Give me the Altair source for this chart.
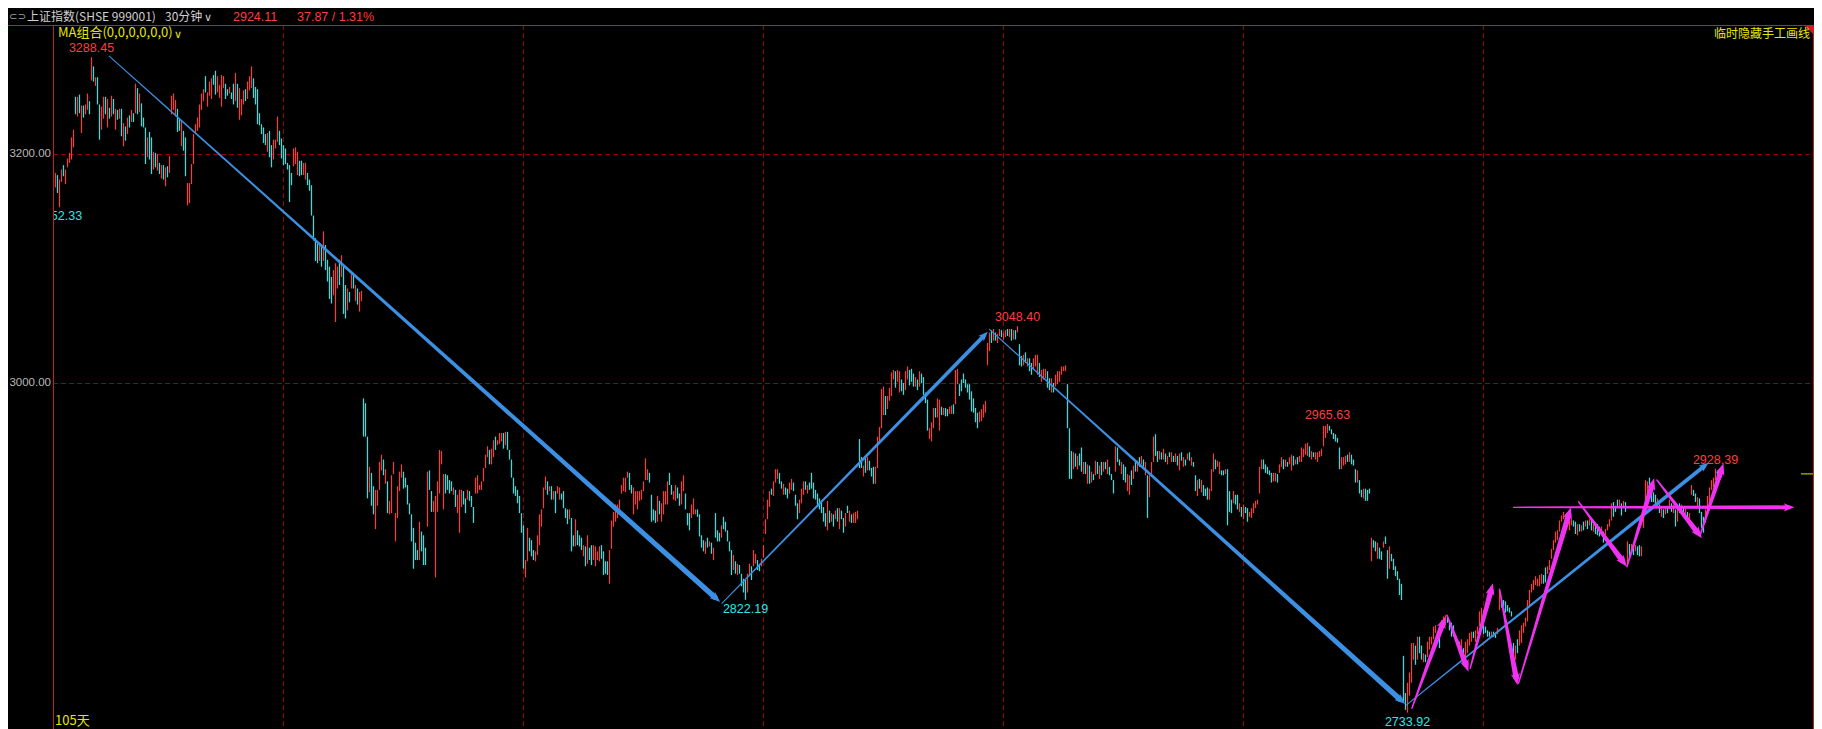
import math
import altair as alt
import pandas as pd

# ---------------- candle values (open, close) ----------------
chunk_start = [0, 154, 402, 466, 506, 658, 674]

bars_a = [
(3170,3183),(3181,3165),(3152.33,3177),(3175,3186),(3190,3180),(3173,3186),(3188,3196),(3192,3201),(3195,3215),(3206,3222),
(3252,3236),(3234,3252),(3254,3237),(3219,3244),(3244,3233),(3236,3245),(3240,3255),(3248,3236),(3267,3288.45),(3280,3266),
(3262,3270),(3270,3245),(3245,3213),(3222,3243),(3232,3252),(3252,3236),(3224,3250),(3242,3232),(3234,3253),(3250,3236),
(3222,3241),(3240,3231),(3232,3241),(3241,3216),(3207,3228),(3225,3212),(3218,3233),(3235,3224),(3229,3240),(3237,3229),
(3237,3264),(3260,3236),(3238,3255),(3246,3225),(3233,3224),(3224,3191),(3197,3215),(3220,3195),(3215,3182),(3186,3202),
(3201,3188),(3185,3200),(3192,3182),(3178,3190),(3190,3177),(3171,3188),(3189,3179),(3183,3198),(3236,3253),(3240,3255),
(3234,3249),(3241,3220),(3232,3221),(3207,3231),(3221,3203),(3215,3180),(3154,3174),(3156,3174),(3173,3191),(3191,3218),
(3218,3227),(3221,3233),(3224,3245),(3240,3255),(3248,3259),(3271,3256),(3243,3256),(3253,3266),(3250,3269),(3272,3263),
(3276,3254),(3256,3271),(3251,3263),(3243,3272),(3260,3271),(3264,3250),(3259,3253),(3255,3261),(3256,3250),(3264,3245),
(3248,3274),(3264,3242),(3231,3260),(3235,3250),(3245,3258),(3259,3248),(3250,3266),(3258,3271),(3260,3280),(3269,3251),
(3261,3245),(3259,3227),(3237,3226),(3227,3218),(3224,3210),(3218,3208),(3202,3219),(3221,3197),(3208,3188),(3195,3213),
(3205,3213),(3211,3234),(3221,3208),(3214,3196),(3208,3190),(3205,3191),(3192,3186),(3190,3157),(3183,3172),(3189,3205),
(3191,3206),(3181,3202),(3194,3180),(3194,3181),(3181,3192),(3177,3192),(3183,3172),(3177,3167),(3172,3145),(3145,3123),
(3125,3105),(3120,3103),(3105,3121),(3119,3100),(3105,3131),(3119,3097),(3106,3087),(3100,3072),(3091,3068),(3075,3097),
(3052,3103),(3081,3100),(3106,3084),(3091,3110),(3100,3059),(3084,3055),(3062,3081),(3078,3069),(3081,3096),(3093,3081),
(3070,3084),(3081,3067),(3061,3078),(3070,3079),
]

bars_b = [
(2987,2955),(2983,2955),(2955,2904),(2909,2930),(2925,2898),(2914,2891),(2879,2911),(2898,2911),(2911,2934),(2927,2940),
(2936,2923),(2916,2928),(2918,2892),(2891,2902),(2892,2923),(2924,2934),(2869,2892),(2888,2914),(2910,2926),(2921,2932),
(2926,2912),(2921,2913),(2915,2899),(2900,2891),(2891,2869),(2880,2847),(2868,2854),(2862,2854),(2854,2885),(2877,2861),
(2874,2850),(2864,2850),(2881,2926),(2927,2911),(2910,2893),(2893,2902),(2840,2906),(2893,2918),(2908,2944),(2932,2943),
(2895,2924),(2924,2908),(2923,2911),(2919,2908),(2918,2910),(2907,2913),(2911,2897),(2892,2907),(2876,2911),(2897,2911),
(2910,2899),(2904,2892),(2903,2911),(2910,2902),(2906,2897),(2897,2884),(2908,2921),(2908,2923),(2911,2915),(2911,2918),
(2918,2929),(2929,2940),(2938,2947),(2944,2932),(2932,2945),(2938,2952),(2955,2944),(2948,2952),(2949,2958),(2951,2958),
(2958,2945),(2948,2959),(2959,2944),(2944,2936),(2936,2921),(2921,2908),(2914,2906),(2911,2900),(2906,2892),(2892,2876),
(2882,2847),(2840,2854),(2853,2880),(2872,2861),(2870,2857),(2862,2854),(2853,2861),(2858,2874),(2866,2891),(2881,2895),
(2896,2913),(2911,2922),(2918,2907),(2910,2914),(2914,2903),(2903,2910),(2910,2892),(2908,2914),(2903,2913),(2908,2903),
(2910,2896),(2896,2888),(2895,2883),(2887,2895),(2888,2861),(2874,2865),(2865,2887),(2878,2866),(2874,2865),(2872,2862),
(2857,2866),(2865,2849),(2851,2874),(2864,2854),(2866,2850),(2854,2866),(2849,2865),(2854,2861),(2853,2865),(2866,2855),
(2861,2842),(2853,2843),(2853,2842),(2835,2862),(2863,2886),(2881,2893),(2885,2899),(2888,2899),(2891,2903),(2908,2915),
(2910,2921),(2909,2921),(2921,2926),(2925,2911),(2915,2908),(2891,2913),(2899,2910),(2895,2910),(2902,2910),(2903,2911),
(2910,2918),(2919,2937),(2919,2928),(2925,2917),(2907,2885),(2895,2886),(2894,2884),(2885,2906),(2902,2891),(2885,2900),
(2891,2910),(2899,2910),(2899,2918),(2925,2915),(2915,2907),(2903,2910),(2902,2915),(2913,2904),(2908,2898),(2899,2918),
(2910,2923),(2908,2895),(2892,2882),(2892,2878),(2888,2899),(2891,2904),(2891,2895),(2895,2889),(2891,2873),(2874,2864),
(2870,2861),(2859,2869),(2872,2864),(2865,2869),(2868,2859),(2854,2864),(2892,2872),(2878,2869),(2876,2869),(2872,2882),
(2889,2879),(2885,2877),(2878,2869),(2869,2861),(2862,2842),(2846,2858),(2853,2843),(2842,2851),(2850,2843),
(2843,2833),(2839,2828),(2838,2822.19),(2828,2843),(2841,2851),(2849,2838),(2849,2862),(2851,2859),(2854,2846),(2851,2845),
(2849,2855),(2856,2866),(2875,2887),(2887,2903),(2897,2910),(2912,2907),(2906,2918),(2917,2928),(2920,2928),(2925,2916),
(2918,2912),(2907,2916),(2913,2907),(2912,2904),(2908,2917),(2911,2920),(2917,2910),(2907,2898),(2900,2887),(2892,2903),
(2900,2912),(2907,2918),(2918,2911),(2908,2915),(2917,2911),(2925,2912),(2917,2904),(2911,2903),(2908,2897),(2904,2895),
(2901,2892),(2897,2885),(2892,2881),(2878,2902),(2894,2884),(2885,2892),(2891,2881),(2887,2894),(2896,2885),(2879,2896),
(2894,2887),(2888,2876),(2881,2892),(2898,2892),(2885,2894),(2891,2884),(2884,2892),(2884,2893),(2887,2894),
]

bars_c = [
(2953,2929),(2938,2929),(2922,2931),(2937,2925),(2927,2938),(2935,2927),(2929,2922),(2930,2916),(2916,2930),(2929,2955),
(2950,2963),(2962,2995),(2973,2997),(2989,2973),(2978,2989),(2985,2996),(2989,3009),(3003,3011),(3010,2996),(3001,3011),
(2992,3010),(3003,2993),(3000,2990),(2994,3010),(3003,3014),(3011,2998),(3012,3001),(3008,2997),(2997,3005),(3003,2994),
(2997,3010),(3008,3000),(3005,2990),(2992,2983),(2986,2960),(2953,2962),(2951,2967),(2962,2979),(2979,2971),(2971,2987),
(2960,2986),(2980,2973),(2973,2979),(2979,2972),(2978,2972),(2974,2980),(2974,2981),(2982,2974),(2982,3011),(2999,3012),
(2999,2989),(3003,2993),(3008,3000),(3003,2996),(2999,2992),(2999,2986),(2993,2976),(2987,2975),(2979,2967),(2975,2962),
(2967,2976),(2968,2978),(2971,2982),(2975,2985),
]

bars_d = [
(3015,3034),(3027,3043),(3045,3034),(3036,3046),(3043,3036),(3034,3042),(3040,3046),(3045,3039),(3037,3043),(3039,3045),
(3046,3040),(3039,3046),(3046,3036),(3037,3045),(3045,3037),(3043,3048.40),(3033,3015),(3023,3014),(3015,3024),(3026,3017),
(3014,3021),(3021,3010),(3017,3007),(3011,3021),(3014,3024),(3007,3024),(3017,3005),(3001,3011),(3003,3012),(3004,3012),
(3010,2996),(3004,2994),(2992,3004),(3000,2992),(2997,3007),(2999,3010),(3001,3010),(3007,3014),(3010,3014),(3010,3015),
]

bars_e = [
(2999,2962),(2962,2920),(2943,2920),(2928,2942),(2941,2930),(2928,2939),(2941,2931),(2946,2926),(2924,2934),(2934,2924),
(2916,2932),(2931,2916),(2917,2926),(2924,2919),(2923,2935),(2934,2924),(2920,2931),(2934,2923),(2926,2934),(2934,2928),
(2924,2936),(2930,2923),(2924,2919),(2919,2908),(2926,2947),(2946,2934),(2936,2931),(2924,2934),(2932,2919),(2930,2917),
(2910,2924),(2907,2923),(2927,2915),(2920,2931),(2934,2926),(2926,2935),(2938,2930),(2932,2939),(2936,2930),(2923,2934),
(2923,2888),(2905,2923),(2924,2934),(2934,2955),(2957,2939),(2943,2934),(2936,2943),(2942,2936),(2936,2945),(2941,2934),
(2932,2939),(2942,2938),(2934,2942),(2939,2934),(2934,2941),(2939,2931),(2927,2941),(2942,2935),(2930,2938),(2936,2931),
(2936,2941),(2942,2935),(2931,2938),(2934,2930),(2923,2910),(2906,2919),(2920,2912),(2909,2919),(2915,2906),(2912,2906),
(2913,2903),(2903,2912),(2910,2928),(2926,2941),(2936,2928),(2930,2935),(2924,2934),(2927,2923),(2927,2923),(2924,2928),
(2928,2882),(2910,2893),(2903,2892),(2900,2910),(2907,2899),(2907,2895),(2893,2900),(2897,2889),(2887,2899),(2897,2892),
(2896,2885),(2889,2893),(2888,2896),(2892,2900),(2896,2902),(2899,2903),(2908,2930),(2928,2936),(2936,2928),(2932,2925),
(2930,2924),(2927,2923),(2925,2917),(2918,2925),(2918,2925),(2924,2917),(2925,2932),(2930,2938),(2936,2928),(2930,2936),
(2934,2930),(2932,2938),(2927,2940),(2939,2931),(2932,2936),(2938,2932),(2934,2939),(2934,2946),(2938,2945),(2940,2949),
(2939,2950),(2947,2938),(2936,2943),(2942,2938),(2936,2942),(2934,2942),(2938,2943),(2939,2945),(2947,2964),(2954,2964),
(2958,2965.63),(2964,2960),(2961,2957),(2958,2953),(2957,2951),(2954,2950),(2946,2928),(2928,2938),(2931,2938),(2932,2939),
(2940,2934),(2934,2942),(2940,2932),(2936,2931),(2928,2917),(2917,2927),(2919,2908),(2911,2905),(2904,2912),(2912,2902),
(2911,2902),(2912,2908),
]

bars_f = [
(2853,2872),(2870,2864),(2869,2861),(2855,2868),(2864,2855),(2861,2854),(2864,2869),(2873,2867),(2862,2839),(2847,2865),
(2859,2853),(2855,2846),(2849,2841),(2845,2838),(2839,2826),(2835,2822),
]

bars_g = [
(2778,2742),(2749,2736),(2733.92,2757),(2747,2765),(2757,2788),(2775,2788),(2786,2771),(2775,2793),(2793,2780),(2786,2775),
(2773,2780),(2779,2773),(2777,2789),(2783,2793),(2787,2793),(2791,2801),(2796,2802),(2796,2788),(2795,2784),(2796,2806),
(2801,2809),(2802,2810),(2809,2804),(2806,2798),(2804,2793),(2802,2793),(2793,2789),(2786,2791),(2789,2783),(2782,2791),
(2784,2778),(2775,2789),(2780,2791),(2786,2796),(2789,2797),(2797,2792),(2789,2798),(2795,2801),(2801,2813),(2804,2816),
(2802,2795),(2801,2796),(2798,2793),(2797,2793),(2793,2797),(2797,2793),(2796,2792),(2795,2800),(2814,2830),(2821,2816),
(2822,2817),(2821,2812),(2818,2813),(2816,2812),(2813,2809),(2788,2775),(2775,2786),(2791,2780),(2786,2798),(2788,2802),
(2796,2804),(2801,2808),(2805,2822),(2817,2830),(2828,2835),(2830,2838),(2834,2841),(2833,2839),(2833,2842),(2835,2843),
(2842,2835),(2848,2836),(2843,2849),(2846,2854),(2855,2863),(2862,2870),(2868,2877),(2870,2878),(2877,2886),(2885,2890),
(2887,2893),(2883,2891),(2889,2882),(2878,2886),(2882,2887),(2886,2881),(2885,2875),(2874,2883),(2883,2877),(2877,2882),
(2885,2878),(2881,2886),(2886,2879),(2882,2887),(2886,2878),(2877,2883),(2883,2875),(2883,2874),(2881,2873),(2874,2881),
(2877,2868),(2874,2879),(2878,2883),(2881,2887),(2886,2900),(2901,2889),(2898,2893),(2903,2897),(2897,2903),(2900,2890),
(2897,2902),(2901,2893),(2851,2869),(2867,2855),(2859,2867),(2866,2858),(2861,2866),(2865,2858),(2866,2857),(2857,2865),
(2880,2897),(2897,2919),(2907,2918),(2921,2911),(2912,2901),(2909,2901),(2907,2899),(2896,2904),(2899,2892),(2889,2897),
(2895,2888),(2891,2896),(2897,2892),(2895,2903),(2900,2893),(2892,2899),(2895,2881),(2885,2897),(2900,2892),(2893,2899),
(2897,2891),(2891,2896),(2893,2888),(2887,2892),(2907,2915),(2911,2906),(2908,2901),(2897,2905),(2904,2892),(2893,2880),
(2889,2876),(2884,2895),(2892,2906),(2899,2913),(2911,2919),(2913,2921),(2919,2928.39),(2927,2919),(2926,2919),(2921,2924.11),
]

# extreme-value labels (bar index, text)
ext_bar = [18, 2, 345, 481, 636, 676, 830]
ext_text = ["3288.45", "3152.33", "2822.19", "3048.40", "2965.63", "2733.92", "2928.39"]
ext_high = [True, False, False, True, True, False, True]

# y-axis tick values, vertical grid positions (bar index)
y_ticks = [3000, 3200]
v_grid = [113.75, 233.75, 353.75, 473.75, 593.75, 713.75]

# hand-drawn lines: (bar_from, price_from, bar_to, price_to)
blue_lines = [
    (26.85, 3289.6, 332.35, 2820.4),
    (333.2, 2819.4, 466.2, 3043.7),
    (467.0, 3045.7, 674.85, 2740.5),
    (675.35, 2739.7, 826.5, 2933.4),
]
pink_lines = [
    (678.2, 2737.2, 694.85, 2808.8),
    (695.7, 2810.1, 706.5, 2765.6),
    (707.35, 2768.2, 718.7, 2835.3),
    (722.0, 2830.6, 731.0, 2755.2),
    (731.5, 2756.6, 757.7, 2896.7),
    (761.5, 2901.3, 785.7, 2848.6),
    (785.7, 2848.6, 799.35, 2920.5),
    (800.7, 2919.1, 823.2, 2871.5),
    (822.35, 2874.2, 834.0, 2932.9),
    (729.0, 2896.7, 869.5, 2896.7),
]

# ---------------- styling ----------------
UP, DOWN = "#ff3838", "#10eeee"
RED_TXT, CYAN_TXT = "#ff3c3c", "#2ee6e6"
GRID = "#960000"
FRAME = "#c81e1e"
YEL = "#e6e600"
GRAY = "#d0d0d0"
BLUE = "#3c90e4"
PINK = "#f032f0"
CJK = "Noto Sans CJK SC"
NUM = "Liberation Sans"

W, H = 1761, 704
X0 = -1.25
X1 = X0 + W / 2.0
Y0, Y1 = 2721.28, 3318.48
PXB = W / (X1 - X0)
K = H / math.log(Y1 / Y0)

xs = alt.Scale(domain=[X0, X1], nice=False, zero=False)
ys = alt.Scale(type="log", domain=[Y0, Y1], nice=False, zero=False)

rows = []
for s, ch in zip(chunk_start, [bars_a, bars_b, bars_c, bars_d, bars_e, bars_f, bars_g]):
    for k, (o, c) in enumerate(ch):
        rows.append({"i": s + k, "o": o, "c": c, "col": UP if c > o else DOWN})
df = pd.DataFrame(rows)
last_close = df.sort_values("i")["c"].iloc[-1]

one = pd.DataFrame({"a": [0]})

# grid lines and y labels (drawn as marks)
hgrid = alt.Chart(pd.DataFrame({"v": y_ticks})).mark_rule(
    color=GRID, strokeWidth=1, strokeDash=[5, 3], yOffset=0.5).encode(
    y=alt.Y("v:Q", scale=ys, axis=None), x=alt.value(0), x2=alt.value(W))
vgrid = alt.Chart(pd.DataFrame({"g": v_grid})).mark_rule(
    color=GRID, strokeWidth=1, strokeDash=[5, 3], xOffset=0.5).encode(
    x=alt.X("g:Q", scale=xs, axis=None), y=alt.value(0), y2=alt.value(H))
ylabels = alt.Chart(pd.DataFrame({"v": y_ticks})).transform_calculate(
    t="format(datum.v, '.2f')").mark_text(
    font=NUM, fontSize=11.5, color="#b8b8b8", align="right", baseline="middle").encode(
    y=alt.Y("v:Q", scale=ys, axis=None), x=alt.value(-2), text="t:N")

candles = alt.Chart(df).mark_rule(strokeWidth=1.2).encode(
    x=alt.X("i:Q", scale=xs, axis=None),
    y=alt.Y("o:Q", scale=ys, axis=None),
    y2="c:Q",
    color=alt.Color("col:N", scale=None),
)

# extreme labels
lab = pd.DataFrame({"i": ext_bar, "t": ext_text, "p": [float(t) for t in ext_text], "hi": ext_high})
def ext_layer(hi):
    d = lab[lab.hi == hi]
    return alt.Chart(d).mark_text(font=NUM, fontSize=12.5, baseline="middle", align="center",
                                  dy=-9 if hi else 9, clip=True,
                                  color=RED_TXT if hi else CYAN_TXT).encode(
        x=alt.X("i:Q", scale=xs, axis=None), y=alt.Y("p:Q", scale=ys, axis=None), text="t:N")

# tapered arrows
ARROW = "M0,0 L0.7,1.8 L0,1.35 L-0.7,1.8 Z"
trail_rows, head_rows = [], []
def add_lines(lines, col, w0, w1, r, tag):
    for n, (i0, p0, i1, p1) in enumerate(lines):
        name = f"{tag}{n}"
        dx = (i1 - i0) * PXB
        dy = -(math.log(p1) - math.log(p0)) * K
        L = math.hypot(dx, dy)
        ux, uy = dx / L, dy / L
        back = 1.25 * r
        ib = i1 - ux * back / PXB
        pb = math.exp(math.log(p1) + uy * back / K)
        trail_rows.append({"id": name, "k": 0, "i": i0, "p": p0, "w": w0, "col": col})
        trail_rows.append({"id": name, "k": 1, "i": ib, "p": pb, "w": w1, "col": col})
        head_rows.append({"id": name, "i": i1, "p": p1, "col": col, "s": (2 * r) ** 2,
                          "ang": math.degrees(math.atan2(dx, -dy)) % 360})

add_lines(blue_lines[0:1] + blue_lines[2:3], BLUE, 1.0, 5.5, 6.0, "bb")
add_lines(blue_lines[1:2] + blue_lines[3:4], BLUE, 1.0, 4.0, 5.5, "bs")
add_lines(pink_lines[:-1], PINK, 1.4, 5.5, 6.5, "m")
add_lines(pink_lines[-1:], PINK, 1.4, 4.0, 6.0, "h")

tdf = pd.DataFrame(trail_rows)
hdf = pd.DataFrame(head_rows)
trails = alt.Chart(tdf).mark_trail().encode(
    x=alt.X("i:Q", scale=xs, axis=None), y=alt.Y("p:Q", scale=ys, axis=None),
    size=alt.Size("w:Q", scale=None), color=alt.Color("col:N", scale=None),
    detail="id:N", order="k:Q")
heads = alt.Chart(hdf).mark_point(shape=ARROW, filled=True, opacity=1, strokeWidth=0).encode(
    x=alt.X("i:Q", scale=xs, axis=None), y=alt.Y("p:Q", scale=ys, axis=None),
    size=alt.Size("s:Q", scale=None), color=alt.Color("col:N", scale=None),
    angle=alt.Angle("ang:Q", scale=None))

def txt(t, px, py, color, size=12, font=CJK, align="left"):
    return alt.Chart(one).mark_text(text=t, font=font, fontSize=size, color=color,
                                    align=align, baseline="middle").encode(
        x=alt.value(px), y=alt.value(py))

def rule(x, x2, y, y2, color, w=1):
    return alt.Chart(one).mark_rule(color=color, strokeWidth=w).encode(
        x=alt.value(x), x2=alt.value(x2), y=alt.value(y), y2=alt.value(y2))

frame = [
    rule(-45, W, 0.5, 0.5, FRAME),
    rule(0.5, 0.5, 0, H, FRAME),
    rule(W - 0.5, W - 0.5, 0, H, FRAME),
]
corner = alt.Chart(one).mark_point(shape="M-1,-1 L1,-1 L1,1 Z", filled=True, opacity=1,
                                   strokeWidth=0, color=FRAME, size=100).encode(
    x=alt.value(W - 5), y=alt.value(5))

cur_tick = alt.Chart(one).mark_rule(color=YEL, strokeWidth=1).encode(
    y=alt.YDatum(float(last_close), scale=ys, axis=None),
    x=alt.value(1748), x2=alt.value(W))

decor = [
    txt("⊂⊃", -44, -8, "#a0a0a0", 10, "DejaVu Sans"),
    txt("上证指数(SHSE 999001)", -26, -8, GRAY, 12),
    txt("30分钟", 112, -8, GRAY, 12),
    txt("∨", 151, -7, GRAY, 11, "DejaVu Sans"),
    txt("2924.11", 180, -8, RED_TXT, 12.5, NUM),
    txt("37.87 / 1.31%", 244, -8, RED_TXT, 12.5, NUM),
    txt("MA组合(0,0,0,0,0,0)", 5, 8, YEL, 13),
    txt("∨", 121, 10, YEL, 11, "DejaVu Sans"),
    txt("临时隐藏手工画线", 1757, 9, YEL, 12, CJK, "right"),
    txt("105天", 2, 696, YEL, 13),
]

chart = alt.layer(
    hgrid, vgrid, ylabels, candles, ext_layer(True), ext_layer(False), trails, heads,
    cur_tick, corner, *frame, *decor
).properties(
    width=W, height=H,
    padding={"left": 45, "top": 17, "right": 0, "bottom": 0},
    autosize=alt.AutoSizeParams(type="none"),
    background="#000000",
).configure_view(strokeWidth=0)

chart.save("out.html", embed_options={"renderer": "svg", "actions": False})
